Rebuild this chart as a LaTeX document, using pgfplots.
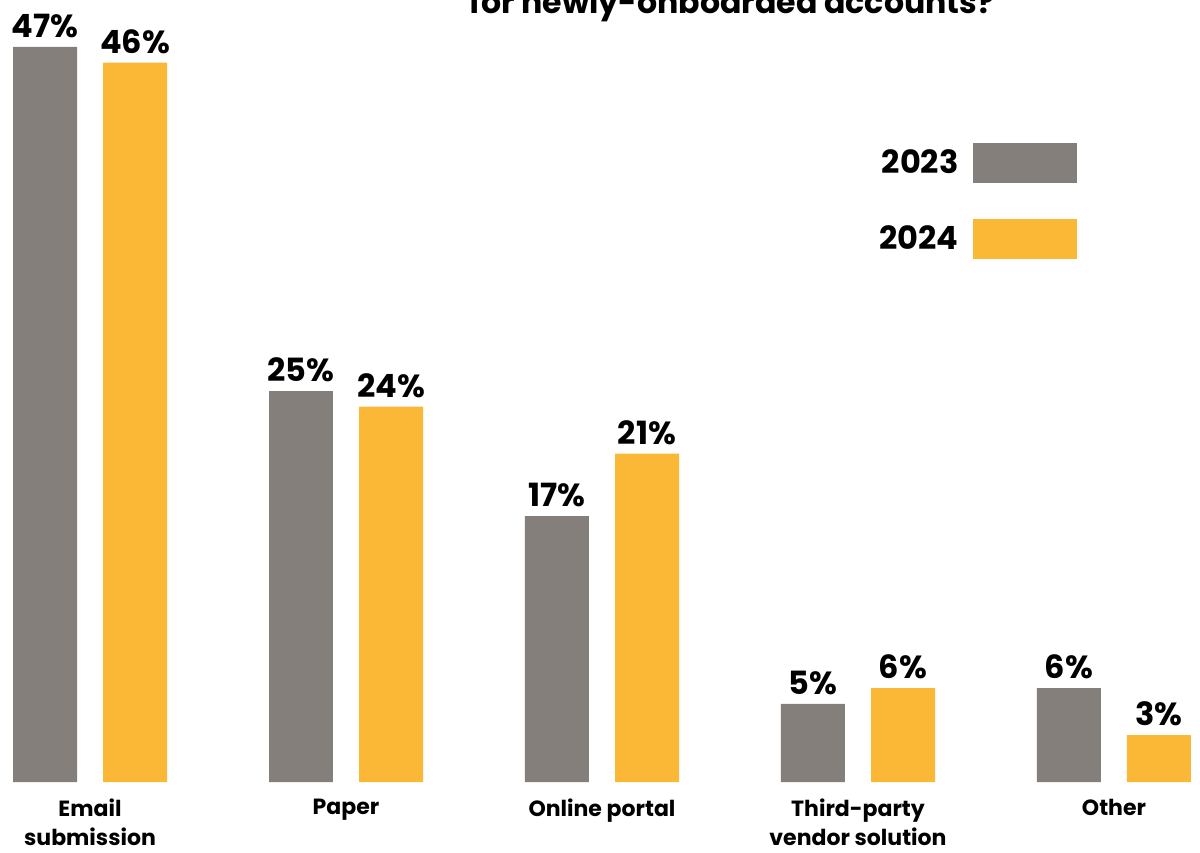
\documentclass[border=0pt]{standalone}
\usepackage{pgfplots}
\pgfplotsset{compat=1.18}
\usepackage{fontspec}
\setmainfont{Poppins}
\definecolor{cgray}{RGB}{133,127,123}
\definecolor{cyellow}{RGB}{250,184,54}
\begin{document}
\begin{tikzpicture}
\begin{axis}[
  scale only axis, width=600pt, height=391pt,
  xmin=-0.3516, xmax=4.336, ymin=0, ymax=50,
  clip=false,
  ybar, bar width=0.25,
  axis line style={draw=none},
  ytick=\empty,
  xtick={0,1,2,3,4},
  xticklabels={Email\\submission, Paper, Online portal, Third-party\\vendor solution, Other},
  xticklabel style={align=center, font=\fontsize{11}{14.5}\selectfont\bfseries, yshift=-5pt},
  major tick length=0pt,
  point meta=y,
  nodes near coords={\pgfmathprintnumber[assume math mode=true]{\pgfplotspointmeta}\%},
  every node near coord/.append style={font=\fontsize{16}{18}\selectfont\bfseries, anchor=south, yshift=1pt},
  legend style={draw=none, fill=none, at={(rel axis cs:0.8975,0.8171)}, anchor=north east,
    inner sep=0pt, row sep=18pt, font=\fontsize{16}{18}\selectfont\bfseries},
  legend plot pos=right,
  legend cell align=right,
]
\addplot[fill=cgray, draw=none, bar shift=-0.1758,
  legend image code/.code={\path[fill=none,draw=none] (0pt,-10pt) rectangle (57pt,10pt); \fill[cgray] (5pt,-10pt) rectangle (57pt,10pt);}]
  coordinates {(0,47) (1,25) (2,17) (3,5) (4,6)};
\addlegendentry{2023}
\addplot[fill=cyellow, draw=none, bar shift=0.1758,
  legend image code/.code={\path[fill=none,draw=none] (0pt,-10pt) rectangle (57pt,10pt); \fill[cyellow] (5pt,-10pt) rectangle (57pt,10pt);}]
  coordinates {(0,46) (1,24) (2,21) (3,6) (4,3)};
\addlegendentry{2024}
\end{axis}
\node[anchor=base, font=\fontsize{15.8}{18}\selectfont\bfseries] at (366pt,384pt) {for newly-onboarded accounts?};
\pgfresetboundingbox
\useasboundingbox (0pt,-35pt) rectangle (600pt,391pt);
\end{tikzpicture}
\end{document}
